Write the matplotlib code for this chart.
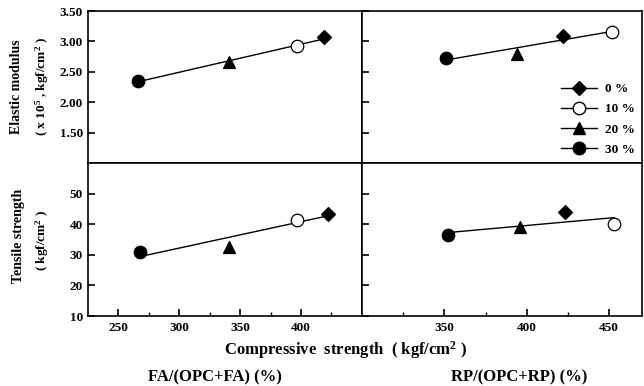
import matplotlib
matplotlib.use("Agg")
import matplotlib.pyplot as plt
import numpy as np

plt.rcParams['font.family'] = ['Liberation Serif', 'DejaVu Serif']
plt.rcParams['font.weight'] = 'bold'
plt.rcParams['mathtext.fontset'] = 'custom'
plt.rcParams['mathtext.rm'] = 'Liberation Serif:bold'
plt.rcParams['mathtext.bf'] = 'Liberation Serif:bold'
plt.rcParams['mathtext.it'] = 'Liberation Serif:bold'

labels = ['0 %', '10 %', '20 %', '30 %']
markers = ['D', 'o', '^', 'o']
faces = ['black', 'white', 'black', 'black']

# FA series (left column)
fa_comp_e = [419, 397, 341, 266]
fa_elastic = [3.07, 2.92, 2.66, 2.35]
fa_comp_t = [422, 397, 341, 268]
fa_tensile = [43.5, 41.5, 32.5, 31.0]

# RP series (right column)
rp_comp_e = [422, 452, 394, 351]
rp_elastic = [3.09, 3.16, 2.80, 2.73]
rp_comp_t = [423, 453, 396, 352]
rp_tensile = [44.0, 40.0, 39.0, 36.5]

fig = plt.figure(figsize=(6.44, 3.86), dpi=100)
L, M, R = 0.1366, 0.562, 0.997
B, C, T = 0.1813, 0.5777, 0.9715
ax_tl = fig.add_axes([L, C, M - L, T - C])
ax_tr = fig.add_axes([M, C, R - M, T - C])
ax_bl = fig.add_axes([L, B, M - L, C - B])
ax_br = fig.add_axes([M, B, R - M, C - B])

msize = {'D': 7.5, 'o': 9, '^': 8}


def draw(ax, xs, ys):
    k, b = np.polyfit(xs, ys, 1)
    xl = np.array([min(xs), max(xs)])
    ax.plot(xl, k * xl + b, color='black', lw=1.0, zorder=1)
    for x, y, m, f in zip(xs, ys, markers, faces):
        ax.plot([x], [y], marker=m, ms=msize[m], mfc=f, mec='black', mew=0.9,
                ls='none', zorder=3)


draw(ax_tl, fa_comp_e, fa_elastic)
draw(ax_bl, fa_comp_t, fa_tensile)
draw(ax_tr, rp_comp_e, rp_elastic)
draw(ax_br, rp_comp_t, rp_tensile)

for ax in (ax_tl, ax_bl):
    ax.set_xlim(225, 450)
for ax in (ax_tr, ax_br):
    ax.set_xlim(300, 470)
for ax in (ax_tl, ax_tr):
    ax.set_ylim(1.0, 3.5)
for ax in (ax_bl, ax_br):
    ax.set_ylim(10, 60)

for ax in (ax_tl, ax_tr, ax_bl, ax_br):
    for s in ax.spines.values():
        s.set_linewidth(1.2)
    ax.tick_params(direction='in', labelsize=9.5, width=1.2, length=5)
    ax.tick_params(which='minor', direction='in', width=1.0, length=3)

ax_tl.set_yticks([1.5, 2.0, 2.5, 3.0, 3.5])
ax_tl.set_yticklabels(['1.50', '2.00', '2.50', '3.00', '3.50'])
ax_tr.set_yticks([1.5, 2.0, 2.5, 3.0, 3.5])
ax_tr.set_yticklabels([])
ax_bl.set_yticks([10, 20, 30, 40, 50])
ax_br.set_yticks([10, 20, 30, 40, 50])
ax_br.set_yticklabels([])

for ax in (ax_tl, ax_tr):
    ax.set_xticks([])
ax_bl.set_xticks([250, 300, 350, 400])
ax_bl.set_xticks([275, 325, 375, 425], minor=True)
ax_br.set_xticks([350, 400, 450])
ax_br.set_xticks([325, 375, 425], minor=True)
ax_bl.tick_params(axis='x', pad=4)
ax_br.tick_params(axis='x', pad=4)

for ax in (ax_tl, ax_tr, ax_bl, ax_br):
    for t in ax.get_xticklabels() + ax.get_yticklabels():
        t.set_fontweight('bold')

handles = [plt.Line2D([], [], color='black', lw=1.0, marker=m, mfc=f, mec='black',
                      ms=msize[m]) for m, f in zip(markers, faces)]
ax_tr.legend(handles, labels, loc='lower right', frameon=False,
             handlelength=2.7, labelspacing=0.6, borderaxespad=0.15,
             handletextpad=0.6, prop={'weight': 'bold', 'size': 9.5})

fig.text(0.025, 0.775, 'Elastic modulus', rotation=90, ha='center', va='center',
         fontsize=10, fontweight='bold')
fig.text(0.066, 0.775, '( x 10$^{5}$ , kgf/cm$^{2}$ )', rotation=90,
         ha='center', va='center', fontsize=9.5, fontweight='bold')
fig.text(0.028, 0.39, 'Tensile strength', rotation=90, ha='center', va='center',
         fontsize=10, fontweight='bold')
fig.text(0.066, 0.378, '( kgf/cm$^{2}$ )', rotation=90,
         ha='center', va='center', fontsize=9.5, fontweight='bold')

fig.text(0.537, 0.094, 'Compressive  strength  ( kgf/cm$^{2}$ )', ha='center',
         va='center', fontsize=12, fontweight='bold')
fig.text(0.333, 0.022, 'FA/(OPC+FA) (%)', ha='center', va='center',
         fontsize=12, fontweight='bold')
fig.text(0.806, 0.022, 'RP/(OPC+RP) (%)', ha='center', va='center',
         fontsize=12, fontweight='bold')

fig.savefig('out.png', dpi=100)
